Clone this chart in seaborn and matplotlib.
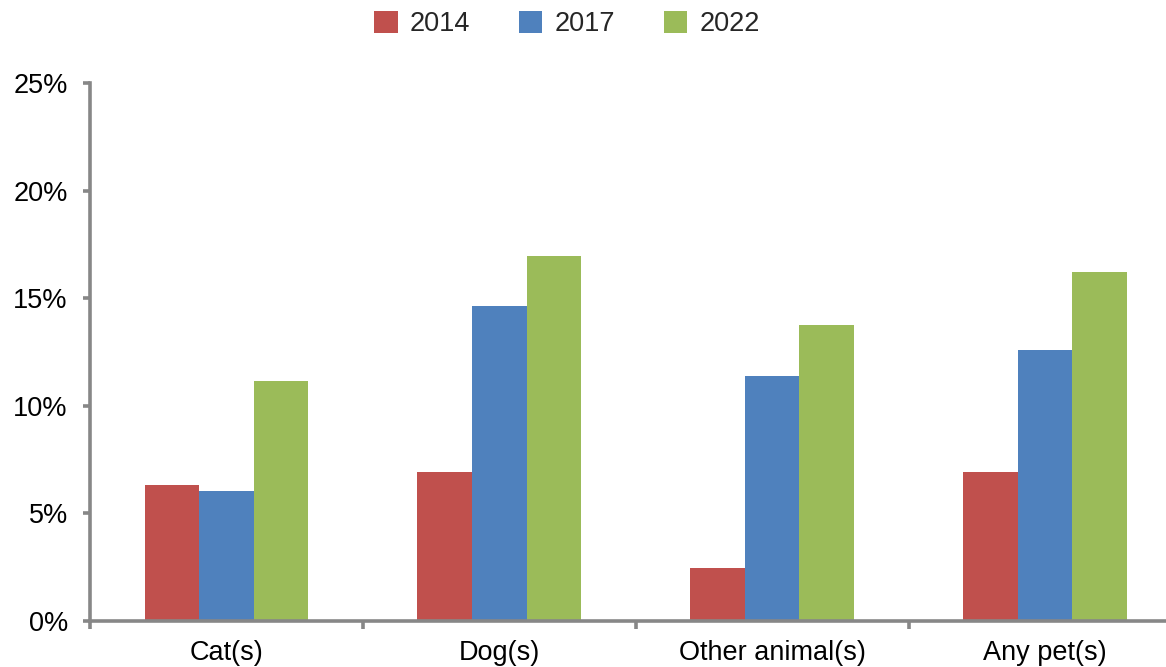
import numpy as np
import pandas as pd
import matplotlib.pyplot as plt
import seaborn as sns
from matplotlib.ticker import FixedLocator, PercentFormatter

sns.set_theme(style="white")
plt.rcParams['font.family'] = ['Liberation Sans', 'DejaVu Sans']

# Data (percent)
categories = ["Cat(s)", "Dog(s)", "Other animal(s)", "Any pet(s)"]
years = ["2014", "2017", "2022"]
values_2014 = [6.3, 6.9, 2.45, 6.9]
values_2017 = [6.05, 14.65, 11.4, 12.6]
values_2022 = [11.15, 16.95, 13.75, 16.2]
colors = ["#C0504D", "#4F81BD", "#9BBB59"]

df = pd.DataFrame({
    "category": categories * 3,
    "year": [y for y in years for _ in categories],
    "value": values_2014 + values_2017 + values_2022,
})

fig = plt.figure(figsize=(11.66, 6.67), dpi=100)
ax = fig.add_axes([0.0772, 0.069, 0.936, 0.8066])

sns.barplot(data=df, x="category", y="value", hue="year", order=categories,
            hue_order=years, palette=colors, width=0.6, saturation=1,
            edgecolor="none", linewidth=0, ax=ax)

ax.set_xlim(-0.5, 3.5)
ax.set_ylim(0, 25)
ax.set_yticks([0, 5, 10, 15, 20, 25])
ax.yaxis.set_major_formatter(PercentFormatter(decimals=0))
ax.set_xlabel("")
ax.set_ylabel("")

spine_col = "#878787"
for side in ["top", "right"]:
    ax.spines[side].set_visible(False)
for side in ["left", "bottom"]:
    ax.spines[side].set_color(spine_col)
    ax.spines[side].set_linewidth(2.6)

fs = 19.5
ax.tick_params(axis="y", which="major", direction="out", length=5, width=2.6,
               color=spine_col, left=True, labelsize=fs, pad=11, labelcolor="black")
ax.tick_params(axis="x", which="major", length=0, labelsize=fs, pad=14,
               labelcolor="black")
ax.xaxis.set_minor_locator(FixedLocator([-0.5, 0.5, 1.5, 2.5]))
ax.tick_params(axis="x", which="minor", direction="out", length=6, width=2.6,
               color=spine_col, bottom=True)

leg = ax.legend(loc="center", bbox_to_anchor=(0.437, 1.11), ncol=3, frameon=False,
                fontsize=fs, handlelength=0.87, handleheight=0.87,
                handletextpad=0.45, columnspacing=1.8)

fig.savefig("out.png", dpi=100)
